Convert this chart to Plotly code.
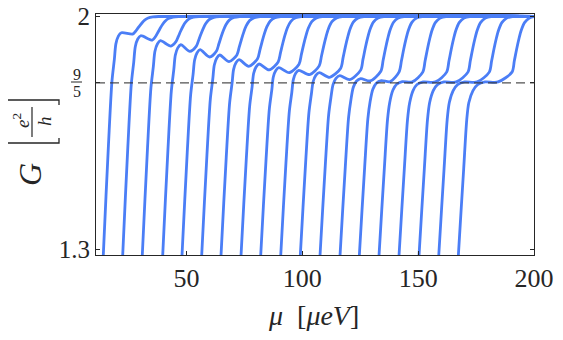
import plotly.graph_objects as go

# onset of each curve (mu where it enters at the bottom of the frame), in ueV
onset = [14.15, 22.52, 30.98, 39.79, 48.12, 56.62, 64.95, 73.59, 82.08, 90.72,
         99.17, 107.68, 116.31, 124.64, 133.14, 141.77, 150.40, 158.91, 167.37]
# roundness of the first knee (0 = sharp, 1 = round)
knee = [0, 0, 0, 0, 0, 0, 0, 0, 0, 0, 0.1, 0.2, 0.3, 0.45, 0.6, 0.7, 0.8, 0.9, 1.0]
# plateau level right after the first step, in e^2/h
plateau = [1.951, 1.942, 1.927, 1.915, 1.900, 1.884, 1.870, 1.857, 1.846, 1.838,
           1.831, 1.822, 1.813, 1.807, 1.804, 1.803, 1.803, 1.803, 1.803]
# small dip on the plateau before the second step
dip_x = [26.8, 35.3, 43.3, 51.5, 60.0, 68.4, 76.9, 85.7, 94.4, 103.2,
         111.8, 120.5, 129.3, 138.0, 147.5, 157.5, 166.5, 175.5, 184.5]
dip_y = [1.947, 1.929, 1.911, 1.895, 1.878, 1.864, 1.850, 1.839, 1.831, 1.825,
         1.817, 1.810, 1.806, 1.804, 1.803, 1.803, 1.803, 1.803, 1.803]
# middle of the second step up to 2
step2 = [30.0, 38.7, 47.5, 56.3, 65.0, 73.8, 82.7, 91.6, 100.6, 109.3,
         118.6, 127.2, 135.9, 143.8, 154.0, 164.3, 173.5, 182.7, 192.5]

# shape of the first step (fraction of the rise vs offset from onset)
rise_f = [-0.08, 0, 0.5, 0.78, 0.88, 0.95, 0.985, 1]
rise_dx_sharp = [-0.3, 0, 2.25, 3.72, 4.77, 5.43, 6.5, 7.8]
rise_dx_round = [-0.3, 0, 2.3, 3.6, 4.5, 6.3, 8.3, 11.5]
# shape of the second step (offset from its middle vs fraction)
step_dt = [-2, -1, 0, 1, 2, 3.5, 5.5, 8]
step_f = [0.15, 0.32, 0.5, 0.66, 0.79, 0.91, 0.975, 1]

y_floor = 1.282
G_top = 2.0
G_ref = 1.8  # 9/5
x_ticks = [50, 100, 150, 200]
x_range = [11, 200]
y_range = [1.282, 2.0075]

blue = '#4b7ef6'
ink = '#262626'
serif = 'Liberation Serif, DejaVu Serif, Times New Roman, serif'

fig = go.Figure()

for k in range(len(onset)):
    xs, ys = [], []
    b = knee[k]
    # first step up to the plateau
    for f, d0, d1 in zip(rise_f, rise_dx_sharp, rise_dx_round):
        xs.append(onset[k] + (1 - b) * d0 + b * d1)
        ys.append(y_floor + f * (plateau[k] - y_floor))
    # dip on the plateau
    xs.append(dip_x[k])
    ys.append(dip_y[k])
    # second step to 2
    for dt, f in zip(step_dt, step_f):
        xs.append(step2[k] + dt)
        ys.append(dip_y[k] + f * (G_top - dip_y[k]))
    xs.append(x_range[1] + 1)
    ys.append(G_top)
    fig.add_trace(go.Scatter(x=xs, y=ys, mode='lines',
                             line=dict(color=blue, width=2.8, shape='spline', smoothing=0.8),
                             hoverinfo='skip'))

# page offset of the figure (body margin) and plot area, in page pixels
OFF = 8
W, H = 563 - OFF, 340 - OFF
L, R, T, B = 96, 534, 14, 255
def px(x):
    return (x - L) / (R - L)
def py(y):
    return (B - y) / (B - T)

shapes = [
    # dashed reference line at 9/5
    dict(type='line', xref='paper', yref='y', x0=0, x1=1, y0=G_ref, y1=G_ref,
         line=dict(color='rgba(50,50,50,0.85)', width=1.3, dash='9px,5px')),
    # 9/5 fraction bar
    dict(type='line', xref='paper', yref='paper', x0=px(71), x1=px(82), y0=py(82), y1=py(82),
         line=dict(color=ink, width=1)),
    # e^2/h fraction bar (rotated)
    dict(type='line', xref='paper', yref='paper', x0=px(32), x1=px(32), y0=py(107), y1=py(137),
         line=dict(color=ink, width=1.2)),
    # brackets around the fraction (rotated)
    dict(type='path', xref='paper', yref='paper',
         path=f'M {px(6)},{py(105)} L {px(6)},{py(100)} L {px(59)},{py(100)} L {px(59)},{py(105)}',
         line=dict(color=ink, width=1.3)),
    dict(type='path', xref='paper', yref='paper',
         path=f'M {px(6)},{py(138)} L {px(6)},{py(143)} L {px(59)},{py(143)} L {px(59)},{py(138)}',
         line=dict(color=ink, width=1.3)),
]

annotations = [
    dict(text='9', x=px(76.5), y=py(74), font=dict(size=16)),
    dict(text='5', x=px(76.5), y=py(91), font=dict(size=16)),
    dict(text='<i>G</i>', x=px(30), y=py(175), font=dict(size=32), textangle=-90),
    dict(text='<i>e</i><sup>2</sup>', x=px(21), y=py(121), font=dict(size=19), textangle=-90),
    dict(text='<i>h</i>', x=px(44), y=py(121), font=dict(size=19), textangle=-90),
    dict(text='<i>μ</i>  [<i>μeV</i>]', x=px(313), y=py(315), font=dict(size=28)),
]
for a in annotations:
    a.update(xref='paper', yref='paper', showarrow=False, xanchor='center', yanchor='middle')
    a['font'].update(family=serif, color=ink)

fig.update_layout(
    width=W, height=H,
    margin=dict(l=L - OFF, r=W - (R - OFF), t=T - OFF, b=H - (B - OFF), autoexpand=False),
    paper_bgcolor='white', plot_bgcolor='white',
    showlegend=False,
    font=dict(family=serif, color=ink),
    shapes=shapes, annotations=annotations,
)
fig.update_xaxes(range=x_range, tickvals=x_ticks, ticks='inside', ticklen=4, automargin=False,
                 tickcolor=ink, mirror='ticks', showline=True, linecolor=ink, linewidth=1.2,
                 showgrid=False, zeroline=False, tickfont=dict(size=26, family=serif),
                 ticklabeloverflow='allow')
fig.update_yaxes(range=y_range, tickvals=[1.3, G_ref, G_top], ticktext=['1.3', '', '2'],
                 automargin=False, ticks='inside', ticklen=4, tickcolor=ink, mirror='ticks',
                 showline=True, linecolor=ink, linewidth=1.2, showgrid=False, zeroline=False,
                 tickfont=dict(size=25, family=serif), ticklabeloverflow='allow')

fig.write_html("out.html")
